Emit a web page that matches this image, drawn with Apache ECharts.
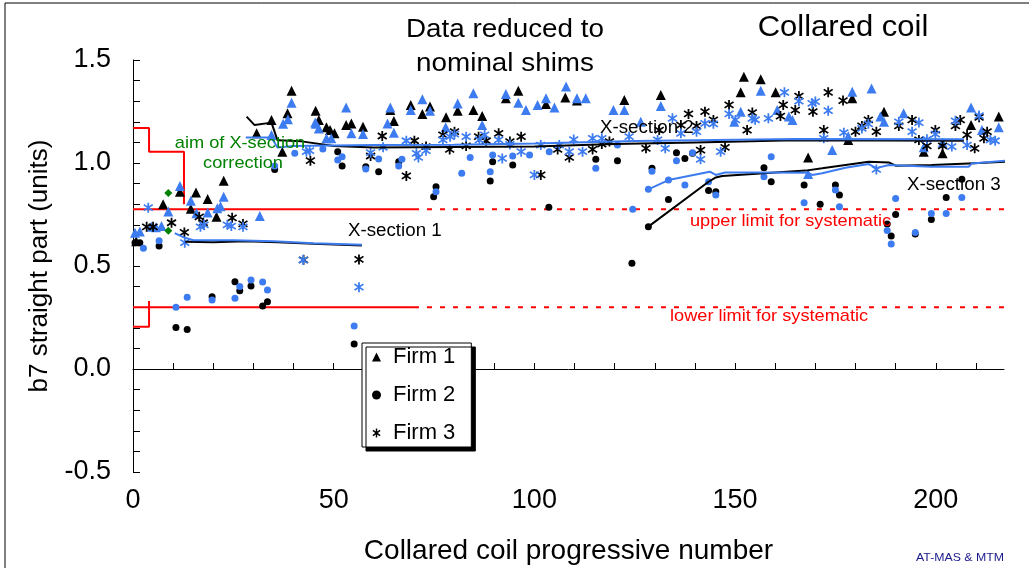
<!DOCTYPE html>
<html>
<head>
<meta charset="utf-8">
<script src="https://cdn.jsdelivr.net/npm/echarts@6/dist/echarts.min.js"></script>
<style>
html,body{margin:0;padding:0;background:#fff;}
#chart{width:1029px;height:568px;}
</style>
</head>
<body>
<div id="chart"></div>
<script>
// ---------------- DATA ----------------
const xTickLabels = [0, 50, 100, 150, 200];
const yTickLabels = [-0.5, 0.0, 0.5, 1.0, 1.5];

// Firm 1 (triangles): measured (black) and reduced to nominal shims (blue)
const firm1Black = [[0.8,0.62],[7.5,0.80],[11.7,0.861],[15.7,0.857],[18.6,0.825],[14.4,0.778],[20.8,0.739],[22.6,0.914],[30.8,1.144],[34.5,1.209],[37.2,1.055],[38.5,1.241],[39.5,1.351],[45.5,1.254],[46.3,1.209],[48.2,1.173],[49.1,1.16],[50.2,1.144],[53.1,1.184],[54.4,1.192],[57.3,1.176],[64.1,1.257],[65,1.204],[69.2,1.282],[72.1,1.238],[74,1.274],[78,1.222],[80.9,1.254],[84.8,1.257],[87,1.228],[92.9,1.314],[96,1.351],[102.9,1.286],[107.7,1.318],[110.6,1.303],[122.4,1.306],[131.5,1.33],[151.4,1.343],[152.2,1.419],[156.4,1.406],[160.1,1.343],[168.2,1.027],[179.2,1.314],[187.1,1.249],[178.2,1.112],[197,1.055],[201.7,1.047],[208.8,1.184],[215.7,1.226]];
const firm1Blue = [[0.5,0.662],[1.7,0.667],[4.6,0.69],[5.7,0.688],[7.1,0.694],[11.7,0.888],[8.8,0.764],[14.4,0.817],[15.8,0.756],[18.6,0.76],[21,0.78],[22.6,0.836],[21.8,0.79],[31.6,0.743],[34.5,1.136],[37.4,1.19],[38.6,1.212],[39.5,1.293],[45.6,1.19],[45.4,1.197],[46.3,1.168],[48.2,1.12],[49.4,1.12],[53.1,1.27],[54.4,1.144],[57.3,1.141],[63.4,1.192],[64.1,1.27],[65,1.147],[69.2,1.257],[72.1,1.309],[74,1.254],[77.9,1.173],[80.9,1.289],[84.8,1.338],[87,1.184],[92.9,1.335],[96,1.293],[97.9,1.257],[100.8,1.282],[102.9,1.314],[105,1.27],[107.9,1.371],[110.6,1.314],[112.8,1.314],[119.7,1.257],[122.4,1.257],[126.5,1.20],[131.5,1.277],[149.8,1.20],[151.4,1.249],[156.4,1.351],[160.5,1.257],[163.4,1.226],[164.3,1.209],[168.2,0.947],[179.2,1.346],[184,1.362],[186.2,1.226],[187.1,1.20],[178.2,1.13],[174.2,1.063],[192,1.241],[197,1.076],[201.7,1.10],[208.8,1.27],[211.5,1.16],[215.7,1.173]];

// Firm 2 (circles)
const firm2Black = [[0.5,0.613],[1.7,0.613],[6.5,0.597],[10.7,0.202],[13.5,0.192],[19.7,0.351],[25.4,0.424],[26.6,0.38],[29.4,0.403],[32.3,0.306],[33.5,0.327],[35.3,0.969],[51,1.055],[52.1,0.985],[55.1,0.121],[58,0.982],[61.2,0.958],[66.2,1.006],[74.9,0.836],[75.5,0.885],[89,0.913],[89.6,1.006],[94.6,0.99],[103.6,0.785],[115.3,1.018],[120.7,1.011],[124.3,0.513],[128.4,0.691],[129.3,0.974],[133.4,0.823],[135.4,1.05],[137.5,1.022],[139.4,1.047],[143.4,0.866],[145.2,0.861],[157.2,0.977],[159,0.909],[167.2,0.893],[171.2,0.80],[175,0.893],[176,0.845],[187.9,0.704],[188.9,0.646],[190,0.75],[194.9,0.655],[198.9,0.726],[202.6,0.833],[206.5,0.921]];
const firm2Blue = [[2.6,0.586],[6.5,0.623],[10.7,0.30],[13.5,0.348],[19.7,0.335],[25.4,0.343],[26.6,0.40],[29.4,0.432],[32.3,0.422],[33.5,0.383],[35.3,0.985],[40.3,1.047],[47.3,1.068],[51,1.015],[52.1,1.03],[55.1,0.209],[58,0.971],[61.2,1.019],[66.2,0.985],[67,1.018],[75.5,0.861],[81.9,0.95],[84,1.027],[89,0.958],[89.6,1.039],[94.6,1.034],[98.8,1.039],[103.7,1.055],[115.3,0.974],[120.7,1.087],[124.5,0.775],[128.4,0.872],[129.3,0.96],[133.4,0.917],[135.4,1.011],[137.5,0.893],[139.4,1.05],[143.4,0.909],[145.2,0.845],[157.2,0.933],[159,1.03],[167.2,0.807],[175,0.869],[176,0.788],[188.9,0.607],[187.9,0.672],[190,0.828],[194.9,0.663],[198.9,0.755],[202.6,0.755],[206.5,0.833]];

// Firm 3 (asterisks)
const firm3Black = [[3.4,0.69],[5,0.69],[9.6,0.71],[12.8,0.663],[16.5,0.739],[17.5,0.71],[24.7,0.734],[27.4,0.704],[44.2,1.011],[42.5,0.53],[56.3,0.532],[59.2,1.034],[62.1,1.131],[68.1,0.937],[70.1,1.108],[73,1.08],[77.2,1.136],[78.9,1.066],[80.1,1.152],[83,1.083],[86.1,1.128],[88,1.108],[91.1,1.144],[93.9,1.104],[96.7,1.128],[101.6,0.942],[105.8,1.066],[108.7,1.027],[114.5,1.066],[116.8,1.092],[118.7,1.104],[127.8,1.071],[131.1,1.16],[136.5,1.184],[138.4,1.238],[140.4,1.18],[141.4,1.063],[142.5,1.249],[144.6,1.209],[147.5,1.076],[148.5,1.282],[153,1.16],[154.3,1.245],[161.3,1.228],[162,1.282],[165,1.257],[165.9,1.325],[169.4,1.249],[172.1,1.16],[173.2,1.343],[176.9,1.303],[180,1.152],[181.6,1.18],[183.2,1.209],[185.2,1.152],[190.8,1.18],[194.1,1.209],[195.8,1.112],[197.8,1.083],[199.9,1.16],[201.7,1.083],[204.9,1.18],[206.1,1.209],[207.8,1.136],[209.7,1.071],[210.8,1.222],[212,1.12],[212.8,1.152]];
const firm3Blue = [[3.8,0.783],[12.9,0.613],[16.8,0.69],[17.7,0.70],[23.5,0.70],[24.5,0.694],[27.4,0.69],[42.4,0.529],[43.2,1.055],[44,1.06],[56.3,0.397],[59.2,1.05],[62.3,1.076],[68.1,1.108],[70.6,1.047],[71.1,1.027],[73,1.06],[77.2,1.112],[79,1.128],[80.1,1.14],[83,1.128],[86.3,1.112],[87.6,1.136],[91.1,1.112],[92,1.022],[93.9,1.09],[96.7,1.055],[100,0.942],[101.6,1.087],[106.2,1.087],[108.7,1.055],[109.8,1.114],[112,1.055],[114.5,1.12],[116.8,1.12],[123.6,1.128],[130.7,1.112],[132.6,1.071],[134.4,1.217],[136.5,1.144],[140.4,1.152],[141.4,1.018],[142.5,1.192],[144.6,1.19],[146.4,1.055],[148.5,1.238],[150.1,1.209],[154.3,1.217],[155,1.21],[158.3,1.217],[162.3,1.343],[165.9,1.30],[169.2,1.289],[170,1.298],[172.1,1.12],[173.2,1.254],[177.1,1.147],[181.6,1.168],[183.2,1.19],[185.2,0.969],[190.8,1.20],[194.1,1.152],[195.8,1.196],[197.8,1.115],[199.9,1.14],[204,1.08],[204.9,1.205],[207.8,1.087],[210.8,1.23],[213.6,1.112],[214.8,1.108]];

// aim of X-section correction (green)
const aimPoints = [[8.8,0.854],[8.8,0.671]];

// X-section averages
const xs1Black = [[13,0.618],[20,0.615],[28,0.62],[36,0.615],[45,0.608],[57,0.6]];
const xs1Blue  = [[10.4,0.66],[12.5,0.64],[15,0.625],[25,0.625],[35,0.62],[45,0.61],[57,0.603]];
const xs2Black = [[28.3,1.225],[30.3,1.184],[34.5,1.196],[36,1.11],[42,1.105],[50,1.082],[60,1.075],[80,1.078],[100,1.08],[120,1.092],[140,1.10],[165,1.11],[207,1.108]];
const xs2Blue  = [[28.1,1.124],[34.5,1.124],[36,1.075],[40,1.082],[60,1.087],[80,1.088],[100,1.095],[125,1.107],[150,1.113],[165,1.116],[207,1.115]];
const xs3Black = [[128.4,0.691],[143.4,0.909],[145.2,0.93],[146.8,0.937],[157.2,0.95],[167.6,0.963],[171.7,0.974],[177.5,0.99],[183.3,1.006],[188.3,1.003],[190,0.987],[199,0.99],[208.2,0.998],[217.3,1.006]];
const xs3Blue  = [[128.4,0.872],[133.4,0.917],[143.7,0.958],[145.2,0.942],[147.5,0.954],[157.2,0.954],[168,0.953],[169.2,0.942],[171.7,0.95],[177.5,0.977],[183.3,0.995],[185.2,0.975],[188.3,0.99],[199,0.982],[208.2,0.982],[209,0.998],[217.3,1.011]];

// Red limits
const aimUpper = [[0,1.17],[4,1.17],[4,1.055],[12.7,1.055],[12.7,0.80]];
const aimLower = [[0,0.205],[4,0.205],[4,0.33]];
const upperSolid = [[0,0.775],[70,0.775]];
const upperDash  = [[70,0.775],[217,0.775]];
const lowerSolid = [[0,0.30],[70,0.30]];
const lowerDash  = [[70,0.30],[217,0.30]];

// ---------------- CHART ----------------
const FONT = '"Liberation Sans", Arial, sans-serif';
const BLUE = '#3d7cf0';
const RED = '#ff0000';
const SX = 1.07; // horizontal stretch of the original picture's text
const ASTERISK = 'path://M4.2,0L5.8,0L5.8,10L4.2,10Z' +
  'M1.48,1.36L9.48,7.36L8.52,8.64L0.52,2.64Z' +
  'M0.52,7.36L8.52,1.36L9.48,2.64L1.48,8.64Z';

const chart = echarts.init(document.getElementById('chart'), null, {renderer: 'canvas'});

function scatter(name, data, symbol, size, color) {
  return {name, type: 'scatter', data, symbol, symbolSize: size,
    itemStyle: {color, opacity: 1}, silent: true, z: 3};
}
function line(name, data, color, width, dashed, z) {
  return {name, type: 'line', data, symbol: 'none', showSymbol: false,
    lineStyle: {color, width, type: dashed ? [5, 8] : 'solid'},
    silent: true, z: z || 4, animation: false};
}
function label(text, x, y, size, color, align) {
  return {type: 'text', x, y, scaleX: SX, z: 100, zlevel: 0, silent: true,
    style: {text, font: size + 'px ' + FONT, fill: color,
      textAlign: align || 'center', textVerticalAlign: 'middle'}};
}

const option = {
  animation: false,
  backgroundColor: '#fff',
  grid: {left: 133, right: 25, top: 60, bottom: 96, containLabel: false, outerBoundsMode: 'none'},
  xAxis: {
    type: 'value', min: 0, max: 217, interval: 10,
    axisLine: {show: true, lineStyle: {color: '#000', width: 1}},
    axisTick: {show: true, inside: true, length: 6, lineStyle: {color: '#000'}},
    axisLabel: {
      show: true, margin: 15, color: '#000', fontFamily: FONT, fontSize: 27,
      showMaxLabel: false,
      formatter: v => (xTickLabels.indexOf(v) >= 0 ? String(v) : '')
    },
    splitLine: {show: false},
    name: 'Collared coil progressive number', nameLocation: 'middle', nameGap: 65,
    nameTextStyle: {color: '#000', fontFamily: FONT, fontSize: 28}
  },
  yAxis: {
    type: 'value', min: -0.5, max: 1.5, interval: 0.5,
    axisLine: {show: true, onZero: false, lineStyle: {color: '#000', width: 1}},
    axisTick: {show: true, inside: true, length: 7, lineStyle: {color: '#000'}},
    minorTick: {show: true, splitNumber: 5, length: 7, lineStyle: {color: '#000'}},
    axisLabel: {
      margin: 22, color: '#000', fontFamily: FONT, fontSize: 27,
      formatter: v => {
        const f = yTickLabels.find(t => Math.abs(t - v) < 1e-9);
        return f === undefined ? '' : f.toFixed(1);
      }
    },
    splitLine: {show: false},
    name: 'b7 straight part (units)', nameLocation: 'middle', nameGap: 80,
    nameTextStyle: {color: '#000', fontFamily: FONT, fontSize: 26}
  },
  legend: {
    show: true, orient: 'vertical', left: 362, top: 343,
    data: ['Firm 1', 'Firm 2', 'Firm 3'],
    itemWidth: 9, itemHeight: 9, itemGap: 14,
    padding: [2, 16, 2, 10],
    backgroundColor: '#fff', borderColor: '#000', borderWidth: 1,
    shadowColor: '#000', shadowBlur: 0, shadowOffsetX: 4, shadowOffsetY: 4,
    textStyle: {color: '#000', fontFamily: FONT, fontSize: 22, lineHeight: 24, padding: [0, 0, 0, 7]},
    selectedMode: false
  },
  series: [
    line('aimUpper', aimUpper, RED, 2, false, 2),
    line('aimLower', aimLower, RED, 2, false, 2),
    line('upperSolid', upperSolid, RED, 2, false, 2),
    line('upperDash', upperDash, RED, 2, true, 2),
    line('lowerSolid', lowerSolid, RED, 2, false, 2),
    line('lowerDash', lowerDash, RED, 2, true, 2),
    scatter('Firm 1', firm1Black, 'triangle', 10, '#000'),
    scatter('Firm 1 nominal', firm1Blue, 'triangle', 10, BLUE),
    scatter('Firm 2', firm2Black, 'circle', 7, '#000'),
    scatter('Firm 2 nominal', firm2Blue, 'circle', 7, BLUE),
    scatter('Firm 3', firm3Black, ASTERISK, 10, '#000'),
    scatter('Firm 3 nominal', firm3Blue, ASTERISK, 10, BLUE),
    scatter('aim', aimPoints, 'diamond', 8, '#008000'),
    line('xs1Black', xs1Black, '#000', 2),
    line('xs1Blue', xs1Blue, BLUE, 2),
    line('xs2Black', xs2Black, '#000', 2),
    line('xs2Blue', xs2Blue, BLUE, 2),
    line('xs3Black', xs3Black, '#000', 2),
    line('xs3Blue', xs3Blue, BLUE, 2)
  ],
  graphic: [
    {type: 'rect', shape: {x: 5, y: 3, width: 1030, height: 570},
      style: {fill: 'none', stroke: '#000', lineWidth: 1}, silent: true, z: -1},
    label('Data reduced to', 505, 30, 26, '#000'),
    label('nominal shims', 505, 64, 26, '#000'),
    label('Collared coil', 843, 28, 29, '#000'),
    label('aim of X-section', 240, 143, 17, '#008000'),
    label('correction', 243, 163, 17, '#008000'),
    label('X-section 1', 348, 231, 17.5, '#000', 'left'),
    label('X-section 2', 600, 128, 17.5, '#000', 'left'),
    label('X-section 3', 907, 185, 17.5, '#000', 'left'),
    label('upper limit for systematic', 690, 221, 17, RED, 'left'),
    label('lower limit for systematic', 670, 316, 17, RED, 'left'),
    label('AT-MAS & MTM', 960, 558, 11.5, '#1a1a8c')
  ]
};
chart.setOption(option);
</script>
</body>
</html>
